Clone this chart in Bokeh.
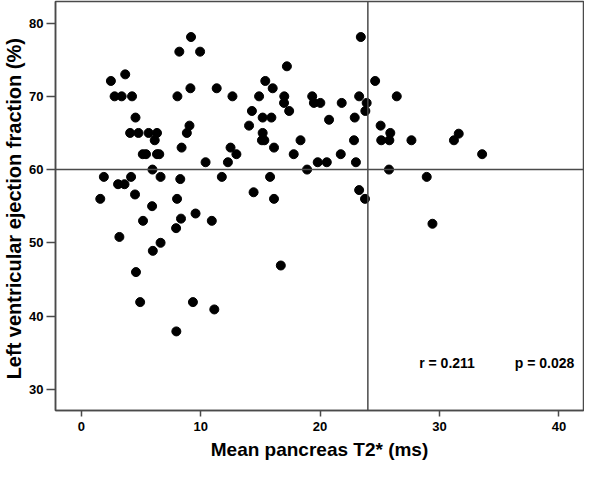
from bokeh.plotting import figure
from bokeh.models import Span, Range1d
from bokeh.embed import file_html
from bokeh.resources import INLINE
from bokeh.core.properties import value

# Mean pancreas T2* (ms)
t2_ms = [9.19, 8.21, 9.95, 3.68, 2.48, 2.79, 3.38, 4.25, 8.05, 9.14, 11.34, 12.66, 14.29, 14.05,
         4.54, 9.06, 8.84, 4.09, 4.79, 5.64, 6.34, 6.15, 8.40, 12.50, 12.99, 5.15, 5.42, 6.34,
         6.53, 10.41, 12.28, 5.96, 1.89, 4.17, 6.64, 8.29, 11.77, 3.08, 3.62, 4.50, 1.59, 8.02,
         5.93, 9.57, 5.17, 8.35, 10.93, 7.94, 3.19, 6.64, 5.99, 4.58, 4.93, 9.35, 11.14, 7.96,
         23.41, 17.22, 15.41, 16.03, 24.61, 14.89, 17.00, 16.98, 19.34, 19.48, 20.02, 21.81,
         23.27, 23.90, 23.79, 26.42, 17.41, 15.19, 15.92, 20.75, 22.90, 25.07, 15.19, 25.88,
         15.13, 15.33, 18.36, 22.84, 25.12, 25.80, 27.65, 16.14, 17.79, 21.73, 19.80, 20.56,
         23.00, 18.91, 25.77, 28.93, 15.81, 14.43, 23.27, 16.14, 23.76, 16.71, 29.41, 31.21,
         31.61, 33.57]
# Left ventricular ejection fraction (%)
lvef = [78.1, 76.1, 76.1, 73.0, 72.1, 70.0, 70.0, 70.0, 70.0, 71.1, 71.1, 70.0, 68.0, 66.0,
        67.1, 66.0, 65.0, 65.0, 65.0, 65.0, 65.0, 64.0, 63.0, 63.0, 62.1, 62.1, 62.1, 62.1,
        62.1, 61.0, 61.0, 60.0, 59.0, 59.0, 59.0, 58.7, 59.0, 58.0, 58.0, 56.6, 56.0, 56.0,
        55.0, 54.0, 53.0, 53.3, 53.0, 52.0, 50.8, 50.0, 48.9, 46.0, 41.9, 41.9, 40.9, 37.9,
        78.1, 74.1, 72.1, 71.1, 72.1, 70.0, 70.0, 69.1, 70.0, 69.1, 69.1, 69.1,
        70.0, 69.1, 68.0, 70.0, 68.0, 67.1, 67.1, 66.8, 67.1, 66.0, 65.0, 65.0,
        64.0, 64.0, 64.0, 64.0, 64.0, 64.0, 64.0, 63.0, 62.1, 62.1, 61.0, 61.0,
        61.0, 60.0, 60.0, 59.0, 59.0, 56.9, 57.2, 56.0, 56.0, 46.9, 52.6, 64.0,
        64.9, 62.1]

x_ticks = [0, 10, 20, 30, 40]
y_ticks = [30, 40, 50, 60, 70, 80]
ref_lvef = 60
ref_t2 = 24
stats = ["r = 0.211", "p = 0.028"]
stats_x = [28.3, 36.3]
stats_y = [33.6, 33.6]

p = figure(width=584, height=462, output_backend="svg", toolbar_location=None,
           x_range=Range1d(-2.16, 42.06), y_range=Range1d(27.1, 82.95),
           min_border_left=47, min_border_right=1, min_border_top=1, min_border_bottom=50)
p.grid.visible = False
p.background_fill_color = "white"
p.border_fill_color = "white"
p.outline_line_color = "#4a4a4a"
p.outline_line_width = 1.5

font = "Liberation Sans"
for ax in (p.xaxis[0], p.yaxis[0]):
    ax.axis_line_color = "#4a4a4a"
    ax.axis_line_width = 1.5
    ax.major_tick_line_color = "#4a4a4a"
    ax.major_tick_line_width = 1.5
    ax.minor_tick_line_color = None
    ax.major_tick_in = 0
    ax.major_label_text_font = font
    ax.major_label_text_font_style = "bold"
    ax.major_label_text_font_size = "13px"
    ax.major_label_text_color = "black"
    ax.axis_label_text_font = font
    ax.axis_label_text_font_style = "bold"
    ax.axis_label_text_color = "black"

p.xaxis.ticker = x_ticks
p.yaxis.ticker = y_ticks
p.xaxis.major_tick_out = 6
p.yaxis.major_tick_out = 9
p.xaxis.major_label_standoff = 5
p.yaxis.major_label_standoff = 3
p.xaxis.axis_label = "Mean pancreas T2* (ms)"
p.yaxis.axis_label = "Left  ventricular ejection fraction (%)"
p.xaxis.axis_label_text_font_size = "19px"
p.yaxis.axis_label_text_font_size = "20px"
p.xaxis.axis_label_standoff = 5
p.yaxis.axis_label_standoff = 1

p.add_layout(Span(location=ref_lvef, dimension="width", line_color="#4a4a4a", line_width=1.5))
p.add_layout(Span(location=ref_t2, dimension="height", line_color="#4a4a4a", line_width=1.5))

p.scatter(t2_ms, lvef, size=9, color="black", line_color="black")

p.text(stats_x, stats_y, text=stats, text_font=value(font), text_font_style="bold",
       text_font_size="14px", text_baseline="middle", text_align="left", text_color="black")

open("out.html", "w").write(file_html(p, INLINE))
